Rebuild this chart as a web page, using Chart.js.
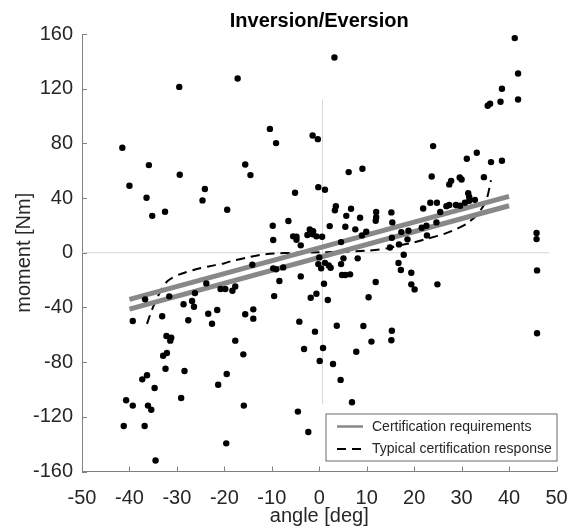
<!DOCTYPE html>
<html>
<head>
<meta charset="utf-8">
<script src="https://cdn.jsdelivr.net/npm/chart.js@4/dist/chart.umd.min.js"></script>
<style>
  html, body { margin: 0; padding: 0; background: #fff; }
  #chart { display: block; }
</style>
</head>
<body>
<canvas id="chart" width="574" height="527"></canvas>
<script>

// measured points (angle in deg, moment in Nm)
const angle = [
    -29.5, -17.2, -41.5, -35.9, -40, -29.4, -24.1, -36.4, -24.6, -35.2, -32.5, -19.4,
    3.2, 41.2, 41.9, 38.5, 41.9, 35.5, 36, 38.2,
    -10.4, -9.1, -1.4, -0.3, -15.6, -14.5, 6.2, 9.1, -5.1, -0.2, 1.2, 3.5, 3.3, 6.7, 5.7, 8.6,
    12, 12, 11.9, -6.5, -9.8, 2.2, 5.5, 7.6, 9.9, -2, -1.3, -2.5, -1.4, -0.6,
    -5.5, -4.8, -4.8, 0.6, -9.7, 9, -3.9, 4.6, 0, 5.1, 8.1,
    24, 31.1, 33.2, 36.2, 38.5, 23.7, 34.7, 27.4, 27.8, 29.6, 30, 31.4, 31.6, 21.9, 23.4, 24.8,
    25.5, 26.8, 27.4, 28.8, 29.7, 30.7, 32.8, 31.6, 15.2, 15.4, 24.7, 21.6, 22.6, 18.8, 17.3,
    15.3, 22.7, 18.6, 16.8, 14.9, 45.8, 45.8, 17.8, 16.7,
    19.4, 17.2, 19.4, 20.1, 24.9, 45.9, 45.9, 15.3, 15.2,
    -17.7, -18.3, -20.8, -19.8,
    -14.1, -9.7, -9.1, -7.6, -8.4, -3.9, -9.5, -0.6, -1.8, 1.8, -0.2, 0.4, 1.2, 2, 2.4, 4.6,
    4.8, 5.5, 6.5, 1, 11.9, 10.4, -15.6, -13.9, -13.9, -4.2, -0.9, 3.7, 9.3, -17.7, -16,
    -3.2, 0.8, 0.1, 2.9, 7.8, 11, 4.5, -15.9, -4.5, 6.9, -2.3,
    -39.3, -36.7, -33.1, -31.6, -28.6, -26.8, -26.4, -27.6, -23.4, -22.6, -21.5, -32.2, -31.2,
    -31.4, -32.9, -32.1, -32.4, -28.4, -37.3, -36.3, -34.7, -29.1, -21.3, -19.5, -40.7, -39.3,
    -36.1, -35.4, -41.2, -36.8, -19.6, -34.5, -26.2, -23.8
]
const moment = [
    121.3, 127.5, 76.8, 64.1, 49, 57, 46.6, 40.2, 38.3, 27, 30, 31.4,
    142.8, 157, 131.1, 119.9, 112.1, 107.5, 109, 110.4,
    90.6, 80.2, 85.8, 83.1, 64.6, 56.8, 59, 61.4, 43.9, 48, 46.1, 34.1, 31, 32.2, 27, 25.6,
    29.8, 26, 23.4, 23.2, 19.7, 19.5, 19, 17.1, 15.4, 17, 15.8, 13, 13.5, 12,
    12, 11.7, 9.5, 11.7, 9.3, 12.7, 5.4, 7.8, -3.4, -4.1, -4.1,
    78, 68.7, 73.1, 66.3, 67.3, 55.8, 55.3, 50, 52.6, 55, 53.6, 43.6, 40.9, 32.4, 36.6, 36.6,
    29.8, 34.1, 34.9, 34.9, 34.4, 36.6, 38.7, 38, 29.5, 22.2, 22.2, 18.3, 19.7, 16.1, 15.1,
    11, 12.7, 9.8, 6.1, 3.8, 14.4, 10, -1.5, -7.5,
    -14.6, -12.6, -23.1, -26.8, -23.1, -12.9, -58.9, -57, -64,
    -24.6, -27.8, -26.5, -26.5,
    -8.8, -11.4, -12.1, -10.7, -20.7, -17.3, -31.7, -30, -32.9, -34.6, -8.3, -11.4, -7.4, -9.3, -11, -8.3,
    -16.3, -16.3, -15.8, -22.7, -21.4, -32.6, -45, -41.4, -48.2, -50.4, -57.7, -53.4, -53.6, -64.3, -74.3,
    -70.4, -69.7, -79.2, -81.4, -72.4, -65, -93, -111.8, -116.2, -109.4, -131.1,
    -49.9, -34.1, -46.5, -31.9, -37.7, -35.3, -39.5, -49.4, -44.6, -51.9, -41.9, -60.9, -62.1,
    -64.3, -75.3, -73.3, -84.8, -86.5, -92.6, -89.6, -98.9, -106.2, -96.5, -88.7, -107.9, -111.8,
    -111.8, -114.8, -126.7, -126.7, -139.4, -152, -29.5, -22.4
]

// certification band
const certAngle = [-40, 40]
const certUpper = [-34.1, 41.2]
const certLower = [-41.2, 34.4]

// typical response (dashed)
const respAngle = [-36.3, -35.4, -34.3, -33.1, -31.9, -29.6, -26.5, -23.3, -20.1, -18.4, -15.2, -12.4, -9.6, -5, 0, 5, 10, 14.3, 17, 19.9, 23, 26.5, 29, 31.2, 33.5, 35.2, 36.2]
const respMoment = [-52, -43, -34, -26, -20.5, -16, -12.6, -10, -7.8, -6, -3.5, -1.5, -0.5, 0, 0.3, 0.7, 1.5, 3.2, 5.5, 7.5, 10.5, 14, 17.5, 21.5, 28.8, 38.5, 53]

// reference zero lines
const vLineX = [0.7, 0.7]
const vLineY = [-110.6, 112]
const hLineX = [-50, 48.5]
const hLineY = [0, 0]

const xTicks = [-50, -40, -30, -20, -10, 0, 10, 20, 30, 40, 50]
const yTicks = [-160, -120, -80, -40, 0, 40, 80, 120, 160]

const labels = ['Certification requirements', 'Typical certification response']


const toPoints = (xs, ys) => xs.map((x, i) => ({ x, y: ys[i] }))

const FONT = "'Liberation Sans', Arial, sans-serif"
const AXIS_COLOR = '#808080'
const TEXT_COLOR = '#262626'


// ticks hacia dentro (estilo matlab)
const innerTicks = {
    id: 'innerTicks',
    afterDraw(chart) {
        const { ctx, chartArea, scales: { x, y } } = chart
        ctx.save()
        ctx.strokeStyle = AXIS_COLOR
        ctx.lineWidth = 1
        ctx.beginPath()
        x.ticks.forEach(t => {
            const px = Math.round(x.getPixelForValue(t.value)) + 0.5
            ctx.moveTo(px, chartArea.bottom)
            ctx.lineTo(px, chartArea.bottom - 5)
        })
        y.ticks.forEach(t => {
            const py = Math.round(y.getPixelForValue(t.value)) + 0.5
            ctx.moveTo(chartArea.left, py)
            ctx.lineTo(chartArea.left + 5, py)
        })
        ctx.stroke()
        ctx.restore()
    }
}


// leyenda con caja abajo a la derecha
const boxLegend = {
    id: 'boxLegend',
    afterDraw(chart) {
        const { ctx, chartArea } = chart
        const w = 231, h = 47
        const bx = chartArea.right - w + 0.5
        const by = chartArea.bottom - 10.5 - h
        ctx.save()
        ctx.fillStyle = '#fff'
        ctx.fillRect(bx, by, w, h)
        ctx.strokeStyle = '#6a6a6a'
        ctx.lineWidth = 1
        ctx.strokeRect(bx, by, w, h)

        const items = [chart.data.datasets[1], chart.data.datasets[3]]
        items.forEach((ds, i) => {
            const ly = by + 12.5 + i * 22.5
            ctx.beginPath()
            ctx.strokeStyle = ds.borderColor
            ctx.lineWidth = i === 0 ? 2.5 : 2
            ctx.setLineDash(ds.borderDash || [])
            ctx.moveTo(bx + 11, ly)
            ctx.lineTo(bx + 37, ly)
            ctx.stroke()
            ctx.setLineDash([])
            ctx.fillStyle = TEXT_COLOR
            ctx.font = `14px ${FONT}`
            ctx.textBaseline = 'middle'
            ctx.fillText(ds.label, bx + 46, ly + 0.5)
        })
        ctx.restore()
    }
}


const drawChart = () => {

    const data = {
        datasets: [
            {
                label: 'data',
                data: toPoints(angle, moment),
                backgroundColor: '#000',
                borderWidth: 0,
                pointRadius: 3.2,
                order: 0
            },
            {
                label: labels[0],
                data: toPoints(certAngle, certUpper),
                showLine: true,
                borderColor: '#888888',
                borderWidth: 5,
                pointRadius: 0,
                order: 1
            },
            {
                label: labels[0],
                data: toPoints(certAngle, certLower),
                showLine: true,
                borderColor: '#888888',
                borderWidth: 5,
                pointRadius: 0,
                order: 1
            },
            {
                label: labels[1],
                data: toPoints(respAngle, respMoment),
                showLine: true,
                borderColor: '#000',
                borderWidth: 2,
                borderDash: [9, 6],
                pointRadius: 0,
                tension: 0.3,
                order: 2
            },
            {
                label: 'vzero',
                data: toPoints(vLineX, vLineY),
                showLine: true,
                borderColor: '#d6d6d6',
                borderWidth: 1,
                pointRadius: 0,
                order: 3
            },
            {
                label: 'hzero',
                data: toPoints(hLineX, hLineY),
                showLine: true,
                borderColor: '#d6d6d6',
                borderWidth: 1,
                pointRadius: 0,
                order: 3
            }
        ]
    }

    const options = {
        responsive: false,
        animation: false,
        devicePixelRatio: 1,
        layout: {
            padding: { left: 0, right: 17.5, top: 0, bottom: 0 }
        },
        plugins: {
            legend: { display: false },
            tooltip: { enabled: false },
            title: {
                display: true,
                text: 'Inversion/Eversion',
                fullSize: false,
                color: '#000',
                font: { family: FONT, size: 20, weight: 'bold' },
                padding: { top: 9, bottom: 1 }
            }
        },
        scales: {
            x: {
                type: 'linear',
                min: -50,
                max: 50,
                afterBuildTicks: scale => { scale.ticks = xTicks.map(value => ({ value })) },
                afterFit: scale => { scale.height = 55.5 },
                // grid oculto, pero tickLength empuja las etiquetas hacia abajo
                grid: { display: false, drawTicks: true, tickLength: 15 },
                border: { display: true, color: AXIS_COLOR, width: 1 },
                ticks: {
                    color: TEXT_COLOR,
                    font: { family: FONT, size: 20 },
                    padding: 0,
                    maxRotation: 0,
                    autoSkip: false
                },
                title: {
                    display: true,
                    text: 'angle [deg]',
                    color: TEXT_COLOR,
                    font: { family: FONT, size: 20 },
                    padding: { top: 0, bottom: -1 }
                }
            },
            y: {
                type: 'linear',
                min: -160,
                max: 160,
                afterBuildTicks: scale => { scale.ticks = yTicks.map(value => ({ value })) },
                afterFit: scale => { scale.width = 82 },
                grid: { display: false, drawTicks: false },
                border: { display: true, color: AXIS_COLOR, width: 1 },
                ticks: {
                    color: TEXT_COLOR,
                    font: { family: FONT, size: 20 },
                    padding: 9,
                    autoSkip: false
                },
                title: {
                    display: true,
                    text: 'moment [Nm]',
                    color: TEXT_COLOR,
                    font: { family: FONT, size: 20 },
                    padding: { top: 12, bottom: 0 }
                }
            }
        }
    }

    new Chart('chart', {
        type: 'scatter',
        data,
        options,
        plugins: [innerTicks, boxLegend]
    })
}


drawChart()
</script>
</body>
</html>
